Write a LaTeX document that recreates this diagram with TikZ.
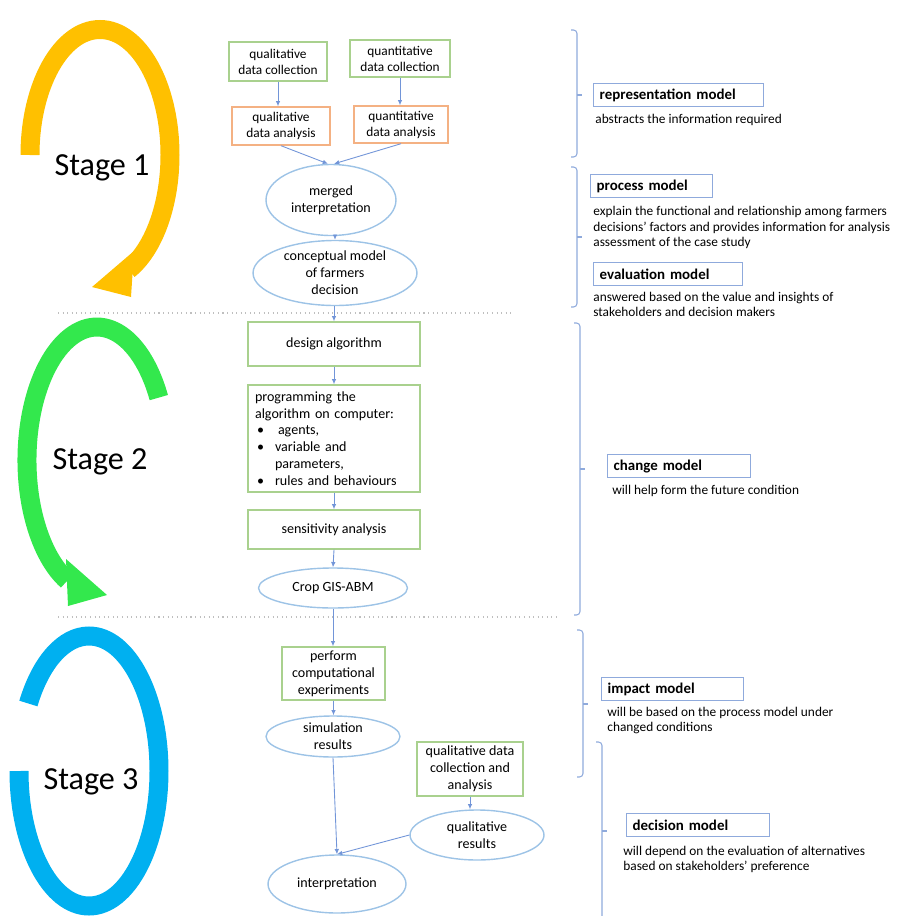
\documentclass[tikz,border=0pt]{standalone}
\usepackage{fontspec}
\setmainfont{Carlito}
\usetikzlibrary{arrows.meta, shapes.geometric}

\definecolor{boxgreen}{HTML}{A9D18E}
\definecolor{boxorange}{HTML}{F4B183}
\definecolor{ovalblue}{HTML}{9DC3E6}
\definecolor{lineblue}{HTML}{7295D8}
\definecolor{modelblue}{HTML}{8FAADC}
\definecolor{stageyellow}{HTML}{FFC000}
\definecolor{stagegreen}{HTML}{33E84D}
\definecolor{stageblue}{HTML}{00B0F0}

\newcommand{\bul}{\makebox[0.4cm][l]{\hspace{0.04cm}\textbullet}}

\begin{document}
\begin{tikzpicture}[x=0.02cm, y=-0.02cm,
    greenbox/.style={draw=boxgreen, line width=0.8pt, align=center, inner sep=0pt,
      font=\fontsize{8}{9.6}\selectfont},
    orangebox/.style={greenbox, draw=boxorange},
    oval/.style={ellipse, draw=ovalblue, line width=0.8pt, align=center, inner sep=0pt,
      font=\fontsize{8}{9.6}\selectfont},
    flow/.style={draw=lineblue, line width=0.5pt, -{Latex[length=3pt,width=2.6pt]}},
    modelbox/.style={draw=modelblue, line width=0.8pt, anchor=north west, align=left,
      inner xsep=0.12cm, inner ysep=0pt, minimum height=0.46cm,
      font=\bfseries\fontsize{8.5}{10}\selectfont},
    desc/.style={anchor=west, align=left, inner sep=0pt, font=\fontsize{7.6}{8.8}\selectfont},
    sep/.style={draw=gray!50, dotted, line width=0.6pt},
    brk/.style={draw=modelblue, line width=0.6pt, rounded corners=2pt},
    stagearc/.style={line width=0.38cm},
    stagetext/.style={font=\fontsize{18.3}{22}\selectfont}]
  \useasboundingbox (0,0) rectangle (900,916);

  % stage arrows
  \draw[stagearc, stageyellow] (30,155) arc[start angle=180, end angle=426, x radius=70, y radius=125.5];
  \fill[stageyellow] (92,287) -- (134,251) -- (131,297) -- cycle;
  \draw[stagearc, stagegreen] (158.8,397.6) arc[start angle=-28, end angle=-245, x radius=70, y radius=133];
  \fill[stagegreen] (107,595) -- (66,559) -- (68,606) -- cycle;
  \draw[stagearc, stageblue] (19,771) arc[start angle=180, end angle=-150, x radius=70, y radius=135];
  \node[stagetext] (stage1) at (102,168) {Stage 1};
  \node[stagetext] (stage2) at (100,462) {Stage 2};
  \node[stagetext] (stage3) at (91,782) {Stage 3};

  % separators
  \draw[sep] (58,313) -- (512,313);
  \draw[sep] (58,617) -- (557,617);

  % stage 1
  \node[greenbox, minimum width=1.96cm, minimum height=0.78cm, font=\fontsize{7.6}{9.1}\selectfont]
    (qualcoll) at (278,61.5) {qualitative\\data collection};
  \node[greenbox, minimum width=2.0cm, minimum height=0.74cm, font=\fontsize{7.6}{9.1}\selectfont]
    (quantcoll) at (400,58.5) {quantitative\\data collection};
  \node[orangebox, minimum width=1.96cm, minimum height=0.76cm, font=\fontsize{7.6}{9.1}\selectfont]
    (qualana) at (281,126) {qualitative\\data analysis};
  \node[orangebox, minimum width=1.88cm, minimum height=0.74cm, font=\fontsize{7.6}{9.1}\selectfont]
    (quantana) at (401,124.5) {quantitative\\data analysis};
  \node[oval, minimum width=2.6cm, minimum height=1.42cm] (merged) at (331,200) {merged\\interpretation};
  \node[oval, minimum width=3.28cm, minimum height=1.3cm] (concept) at (335,273)
    {conceptual model\\of farmers\\decision};

  % stage 2
  \node[greenbox, minimum width=3.44cm, minimum height=0.88cm] (design) at (334,344) {design algorithm};
  \node[greenbox, minimum width=3.44cm, minimum height=2.14cm, align=left, inner xsep=0.14cm,
    text width=3.16cm] (program) at (334,438.5)
    {programming the\\algorithm on computer:\\\bul\hspace{0.06cm}agents,\\\bul variable and\\
     \hspace*{0.4cm}parameters,\\\bul rules and behaviours};
  \node[greenbox, minimum width=3.44cm, minimum height=0.78cm] (sensit) at (334,529.5) {sensitivity analysis};
  \node[oval, minimum width=2.98cm, minimum height=0.8cm] (cropabm) at (333,588) {Crop GIS-ABM};

  % stage 3
  \node[greenbox, minimum width=2.06cm, minimum height=1.06cm] (perform) at (333.5,673.5)
    {perform\\computational\\experiments};
  \node[oval, minimum width=2.68cm, minimum height=0.82cm] (simres) at (333,736.5) {simulation\\results};
  \node[greenbox, minimum width=2.12cm, minimum height=1.08cm] (qualdca) at (470,769)
    {qualitative data\\collection and\\analysis};
  \node[oval, minimum width=2.68cm, minimum height=1.0cm] (qualres) at (477,835) {qualitative\\results};
  \node[oval, minimum width=2.76cm, minimum height=1.16cm] (interp) at (337,884) {interpretation};

  % connectors
  \draw[flow] (qualcoll.south) -- (qualcoll.south |- qualana.north);
  \draw[flow] (quantcoll.south) -- (quantcoll.south |- quantana.north);
  \draw[flow] (qualana.south) -- ([xshift=-0.06cm]merged.north);
  \draw[flow] (quantana.south) -- ([xshift=0.06cm]merged.north);
  \draw[flow] (concept.north |- merged.south) -- (concept.north);
  \draw[flow] (design.north |- concept.south) -- (design.north);
  \draw[flow] (design.south) -- (program.north);
  \draw[flow] (program.south) -- (sensit.north);
  \draw[flow] (sensit.south) -- (cropabm.north);
  \draw[flow] (cropabm.south) -- (cropabm.south |- perform.north);
  \draw[flow] (perform.south) -- (perform.south |- simres.north);
  \draw[flow] (simres.south) -- (interp.north);
  \draw[flow] (qualdca.south) -- (qualdca.south |- qualres.north);
  \draw[flow] (qualres.west) -- (interp.north);

  % brackets
  \foreach \bx/\bt/\bm/\bb in {577/30/95/157, 577/167/237/307, 580/323/469/615, 583/630/704/777} {
    \draw[brk] (\bx-6,\bt) -- (\bx,\bt) -- (\bx,\bb) -- (\bx-6,\bb);
    \draw[brk] (\bx,\bm) -- (\bx+5,\bm);
  }
  \draw[brk] (596,742) -- (602,742) -- (602,916);
  \draw[brk] (602,831) -- (607,831);

  % models
  \node[modelbox, text width=3.16cm] (repmodel) at (593,83) {representation model};
  \node[desc] (repdesc) at (595,120) {abstracts the information required};
  \node[modelbox, text width=2.2cm] (procmodel) at (590,174) {process model};
  \node[desc] (procdesc) at (593,227.5) {explain the functional and relationship among farmers\\
    decisions’ factors and provides information for analysis\\assessment of the case study};
  \node[modelbox, text width=2.74cm] (evalmodel) at (593,262) {evaluation model};
  \node[desc] (evaldesc) at (593,304.5) {answered based on the value and insights of\\
    stakeholders and decision makers};
  \node[modelbox, text width=2.62cm] (chgmodel) at (607,454) {change model};
  \node[desc] (chgdesc) at (612,491) {will help form the future condition};
  \node[modelbox, text width=2.6cm] (impmodel) at (601,677) {impact model};
  \node[desc] (impdesc) at (607,720.5) {will be based on the process model under\\changed conditions};
  \node[modelbox, text width=2.62cm] (decmodel) at (626,813) {decision model};
  \node[desc] (decdesc) at (623,859.5) {will depend on the evaluation of alternatives\\
    based on stakeholders’ preference};
\end{tikzpicture}
\end{document}
